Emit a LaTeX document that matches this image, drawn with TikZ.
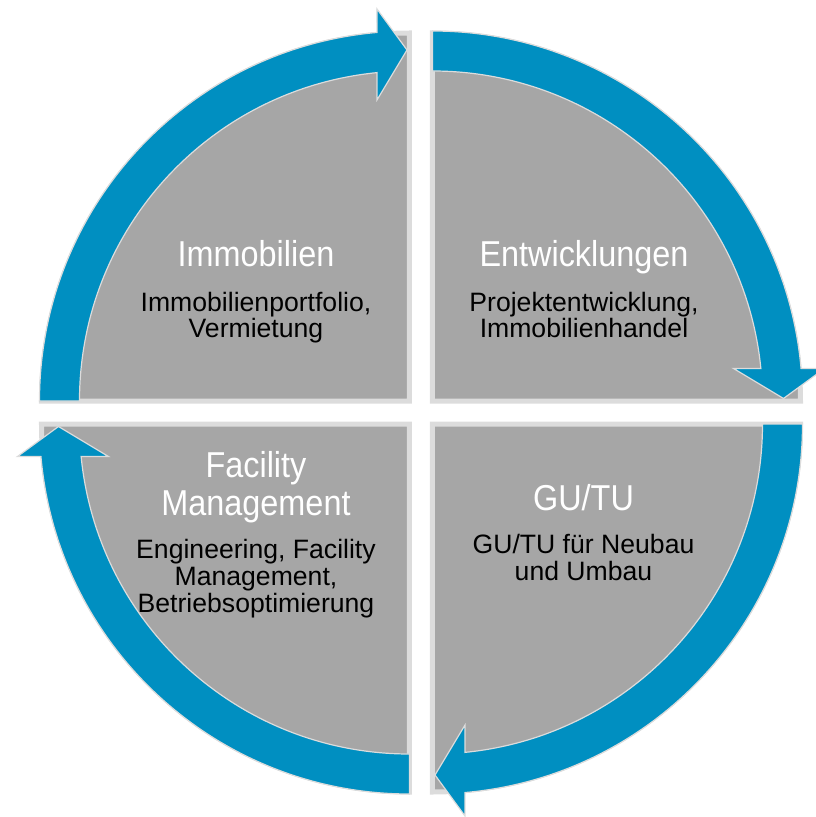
\documentclass[tikz,border=0pt]{standalone}
\usepackage{fontspec}
\setmainfont{Liberation Sans}
\newfontfamily\titlefont[FakeStretch=0.9]{Liberation Sans}
\definecolor{cycleblue}{HTML}{008FC1}
\definecolor{sectorgray}{HTML}{A6A6A6}
\definecolor{edgegray}{HTML}{DCDCDC}
\tikzset{
	sector/.style={fill=sectorgray, draw=edgegray, line width=5pt},
	cyclearrow/.style={fill=cycleblue, draw=edgegray, line width=1.2pt, line join=miter},
	titletext/.style={text=white, font=\titlefont\fontsize{36}{38}\selectfont, align=center, inner sep=0pt, anchor=base},
	bodytext/.style={text=black, font=\fontsize{26.6}{26.8}\selectfont, align=center, inner sep=0pt, anchor=base}
}

\begin{document}
\begin{tikzpicture}[x=1pt, y=1pt]
		\useasboundingbox (-421,-404.5) rectangle (395,412.5);
		\foreach \rot in {0,-90,-180,-270} {
			\begin{scope}[rotate=\rot, shift={(-11.5,11.5)}]
				\draw[sector] (0,0) -- (180:368) arc[start angle=180, end angle=90, radius=368] -- cycle;
			\end{scope}
		}
		\foreach \rot in {0,-90,-180,-270} {
			\begin{scope}[rotate=\rot, shift={(-11.5,11.5)}]
				\draw[cyclearrow] (180:370) arc[start angle=180, end angle=95.04, radius=370]
					-- (-32.5,392) -- (-2.5,351) -- (-32.5,301)
					-- (95.65:330) arc[start angle=95.65, end angle=180, radius=330] -- cycle;
			\end{scope}
		}
		
		\node[titletext] (immo) at (-165,145.5) {Immobilien};
		\node[bodytext] (immotext) at (-165,74.5) {Immobilienportfolio,\\Vermietung};
		
		\node[titletext] (entw) at (163,145.5) {Entwicklungen};
		\node[bodytext] (entwtext) at (163,74.5) {Projektentwicklung,\\Immobilienhandel};
		
		\node[titletext] (gutu) at (162.5,-97.5) {GU/TU};
		\node[bodytext] (gututext) at (162.5,-167.5) {GU/TU für Neubau\\und Umbau};
		
		\node[titletext] (fm) at (-165,-102.5) {Facility\\Management};
		\node[bodytext] (fmtext) at (-165,-199.5) {Engineering, Facility\\Management,\\Betriebsoptimierung};
		
	\end{tikzpicture}
\end{document}
